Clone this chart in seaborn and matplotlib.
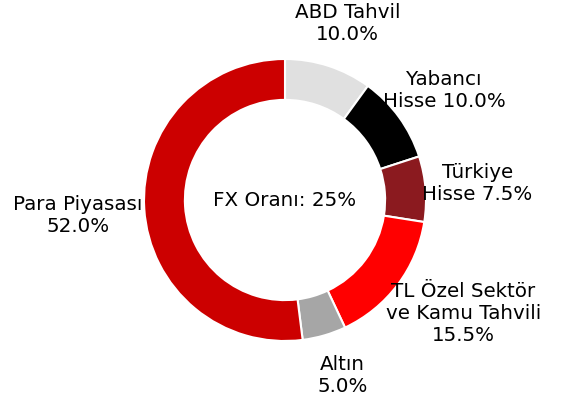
import numpy as np
import matplotlib
matplotlib.use("Agg")
import matplotlib.pyplot as plt
import seaborn as sns

sns.set_theme(style="white")
plt.rcParams['font.family'] = ['DejaVu Sans']

categories = ["ABD Tahvil", "Yabancı\nHisse", "Türkiye\nHisse", "TL Özel Sektör\nve Kamu Tahvili", "Altın", "Para Piyasası"]
values = [10.0, 10.0, 7.5, 15.5, 5.0, 52.0]
label_joins = ["\n", " ", " ", "\n", "\n", "\n"]
colors = ["#E0E0E0", "#000000", "#8B1A1F", "#FF0000", "#A6A6A6", "#CC0000"]
label_dist = [1.325, 1.37, 1.37, 1.50, 1.31, 1.475]
label_ang_shift = [-1.5, -1.5, 0.5, 4.5, 2.0, 0.6]
center_text = "FX Oranı: 25%"

fig = plt.figure(figsize=(5.69, 4.03), dpi=100)
ax = fig.add_axes([0, 0, 1, 1])
R = 141.0
wedges, _ = ax.pie(values, colors=colors, startangle=90, counterclock=False,
                   radius=1.0, wedgeprops=dict(width=0.29, edgecolor="white", linewidth=1.5))
for w, cat, v, j, d, s in zip(wedges, categories, values, label_joins, label_dist, label_ang_shift):
    ang = np.deg2rad((w.theta1 + w.theta2) / 2 + s)
    ax.text(d * np.cos(ang), d * np.sin(ang), f"{cat}{j}{v:.1f}%", ha="center", va="center",
            fontsize=14.3, color="black", multialignment="center")
ax.text(0, 0, center_text, ha="center", va="center", fontsize=14.3, color="black")
ax.set_xlim(-285 / R, 284 / R)
ax.set_ylim(-203 / R, 200 / R)
ax.set_aspect("auto")
ax.axis("off")
fig.savefig("out.png", dpi=100)
